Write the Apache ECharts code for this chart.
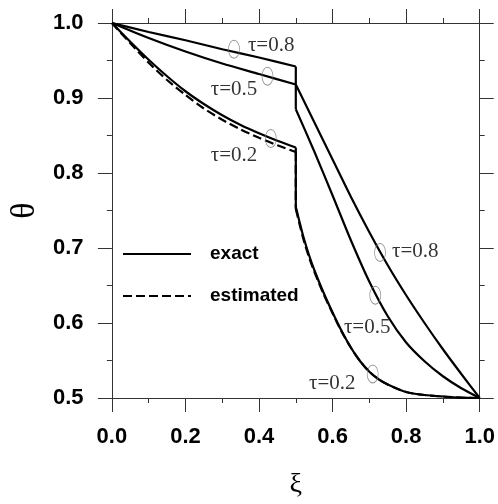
<!DOCTYPE html>
<html>
<head>
<meta charset="utf-8">
<script src="https://cdn.jsdelivr.net/npm/echarts@6/dist/echarts.min.js"></script>
<style>
html,body{margin:0;padding:0;background:#fff;}
#chart{width:498px;height:504px;}
</style>
</head>
<body>
<div id="chart"></div>
<script>
// ---- data (xi, theta); a repeated xi marks the jump at xi = 0.5 ----
const tau08Exact = [[0,1.0],[0.1,0.988],[0.2,0.977],[0.3,0.965],[0.4,0.954],[0.5,0.942],
  [0.5,0.918],[0.55,0.868],[0.6,0.818],[0.65,0.768],[0.7,0.721],[0.75,0.677],[0.8,0.637],
  [0.85,0.600],[0.9,0.565],[0.95,0.532],[1.0,0.5]];
const tau05Exact = [[0,1.0],[0.1,0.980],[0.2,0.962],[0.3,0.946],[0.4,0.932],[0.5,0.918],
  [0.5,0.885],[0.55,0.829],[0.6,0.770],[0.65,0.710],[0.7,0.655],[0.75,0.609],[0.8,0.574],
  [0.85,0.549],[0.9,0.529],[0.95,0.513],[1.0,0.5]];
const tau02Exact = [[0,1.0],[0.05,0.975],[0.1,0.951],[0.15,0.929],[0.2,0.909],[0.25,0.892],
  [0.3,0.877],[0.35,0.864],[0.4,0.853],[0.45,0.843],[0.5,0.834],
  [0.5,0.755],[0.51,0.735],[0.52,0.716],[0.535,0.692],[0.55,0.671],[0.575,0.641],[0.6,0.614],
  [0.625,0.589],[0.65,0.567],[0.675,0.549],[0.7,0.535],[0.725,0.525],[0.75,0.518],[0.8,0.508],
  [0.85,0.504],[0.9,0.502],[0.95,0.5005],[1.0,0.5]];
const tau02Estimated = [[0,1.0],[0.05,0.973],[0.1,0.947],[0.15,0.924],[0.2,0.904],[0.25,0.886],
  [0.3,0.871],[0.35,0.858],[0.4,0.847],[0.45,0.837],[0.5,0.828],
  [0.5,0.752],[0.51,0.732],[0.52,0.713],[0.535,0.689],[0.55,0.669],[0.575,0.639],[0.6,0.613],
  [0.625,0.588],[0.65,0.567],[0.675,0.549],[0.7,0.535],[0.725,0.525],[0.75,0.518],[0.8,0.508],
  [0.85,0.504],[0.9,0.502],[0.95,0.5005],[1.0,0.5]];
// ellipse markers on curves
const markerPoints = [[0.332,0.965],[0.423,0.929],[0.432,0.846],[0.729,0.694],[0.716,0.637],[0.709,0.532]];
// curve annotations
const labelTexts = ['τ=0.8','τ=0.5','τ=0.2','τ=0.8','τ=0.5','τ=0.2'];
const labelPoints = [[0.433,0.970],[0.332,0.911],[0.332,0.824],[0.825,0.696],[0.694,0.594],[0.599,0.520]];
const xTickLabels = ['0.0','0.2','0.4','0.6','0.8','1.0'];
const yTickLabels = ['0.5','0.6','0.7','0.8','0.9','1.0'];

const chart = echarts.init(document.getElementById('chart'), null, {renderer:'canvas'});
const axisColor = '#333';
const sans = '"Liberation Sans", Arial, sans-serif';
const serif = '"Liberation Serif", "Times New Roman", serif';

function xLabel(v){ const i = Math.round(v/0.2); return xTickLabels[i] !== undefined ? xTickLabels[i] : ''; }
function yLabel(v){ const i = Math.round((v-0.5)/0.1); return yTickLabels[i] !== undefined ? yTickLabels[i] : ''; }

// split a curve at its jump (repeated xi) into left branch, vertical jump, right branch
function splitCurve(d){
  let k = -1;
  for (let i = 1; i < d.length; i++) if (d[i][0] === d[i-1][0]) { k = i; break; }
  return {left: d.slice(0, k), jump: [d[k-1], d[k]], right: d.slice(k)};
}

const commonX = {
  type:'value', min:0, max:1, interval:0.2,
  axisLine:{show:true, onZero:false, lineStyle:{color:axisColor, width:1}},
  axisTick:{show:true, inside:false, length:14, lineStyle:{color:axisColor, width:1}},
  minorTick:{show:true, splitNumber:2, length:5, lineStyle:{color:axisColor, width:1}},
  splitLine:{show:false}, minorSplitLine:{show:false}
};
const commonY = {
  type:'value', min:0.5, max:1.0, interval:0.1,
  axisLine:{show:true, onZero:false, lineStyle:{color:axisColor, width:1}},
  axisTick:{show:true, inside:false, length:14, lineStyle:{color:axisColor, width:1}},
  minorTick:{show:true, splitNumber:2, length:5, lineStyle:{color:axisColor, width:1}},
  splitLine:{show:false}, minorSplitLine:{show:false}
};

function curveSeries(name, d, lineType, z){
  const parts = splitCurve(d);
  const base = {name:name, type:'line', symbol:'none', showSymbol:false, z:z,
    itemStyle:{color:'#000'}, lineStyle:{color:'#000', width:2.2, type:lineType}};
  return [
    Object.assign({}, base, {data:parts.left, smooth:0.25}),
    Object.assign({}, base, {data:parts.jump}),
    Object.assign({}, base, {data:parts.right, smooth:0.25})
  ];
}

const series = []
  .concat(curveSeries('estimated', tau02Estimated, [9,4], 2))
  .concat(curveSeries('exact', tau08Exact, 'solid', 3))
  .concat(curveSeries('exact', tau05Exact, 'solid', 3))
  .concat(curveSeries('exact', tau02Exact, 'solid', 3));

series.push({name:'markers', type:'scatter', data:markerPoints, symbol:'circle', symbolSize:[11,18], z:4,
  itemStyle:{color:'rgba(0,0,0,0)', borderColor:'#777', borderWidth:0.9}, silent:true});
series.push({name:'labels', type:'scatter', symbol:'circle', symbolSize:0, z:5, silent:true,
  data:labelPoints.map((p,i)=>({value:p, label:{formatter:labelTexts[i]}})),
  label:{show:true, position:'inside', color:'#000', fontFamily:serif, fontSize:21}});

const option = {
  animation:false,
  backgroundColor:'#fff',
  grid:{left:97, right:15, top:23, bottom:91, containLabel:false},
  xAxis:[
    Object.assign({}, commonX, {
      position:'bottom',
      axisLabel:{show:true, margin:28, formatter:xLabel, color:'#000',
        fontFamily:sans, fontWeight:'bold', fontSize:22},
      name:'ξ', nameLocation:'middle', nameGap:73,
      nameTextStyle:{fontFamily:serif, fontSize:28, color:'#000'}
    }),
    Object.assign({}, commonX, {position:'top', axisLabel:{show:false}})
  ],
  yAxis:[
    Object.assign({}, commonY, {
      position:'left',
      axisLabel:{show:true, margin:59, align:'left', formatter:yLabel, color:'#000',
        fontFamily:sans, fontWeight:'bold', fontSize:22},
      name:'θ', nameLocation:'middle', nameGap:66, nameRotate:90,
      nameTextStyle:{fontFamily:serif, fontSize:34, color:'#000'}
    }),
    Object.assign({}, commonY, {position:'right', axisLabel:{show:false}})
  ],
  legend:{
    data:['exact','estimated'], orient:'vertical', left:117, top:239,
    itemWidth:68, itemHeight:20, itemGap:22, selectedMode:false,
    itemStyle:{opacity:0},
    textStyle:{fontFamily:sans, fontWeight:'bold', fontSize:19, color:'#000', padding:[0,0,0,14], lineHeight:20}
  },
  series:series
};
chart.setOption(option);
</script>
</body>
</html>
